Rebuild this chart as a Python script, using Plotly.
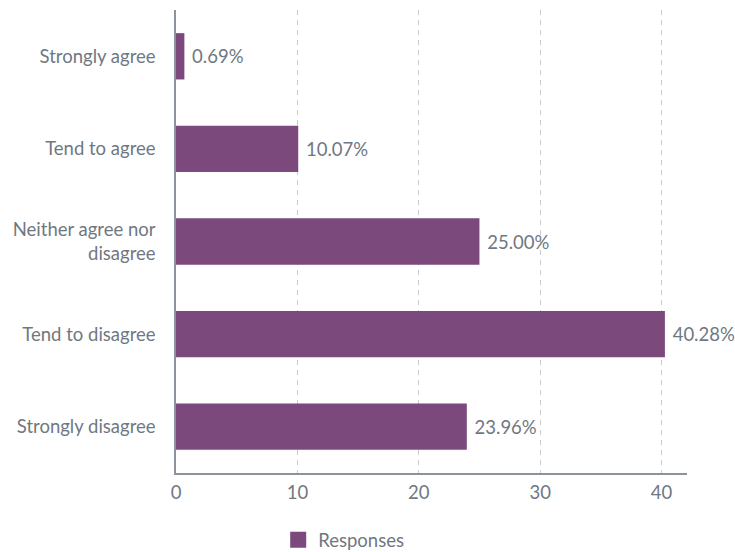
import plotly.graph_objects as go

categories = ["Strongly agree", "Tend to agree", "Neither agree nor<br>disagree",
              "Tend to disagree", "Strongly disagree"]
values = [0.69, 10.07, 25.00, 40.28, 23.96]
labels = ["0.69%", "10.07%", "25.00%", "40.28%", "23.96%"]
series_name = "Responses"
x_ticks = [0, 10, 20, 30, 40]

purple = "#7b497c"
text_grey = "#6f7882"
axis_grey = "#8c939b"
grid_grey = "#c9cbcf"
FS = 18.5

fig = go.Figure()
fig.add_trace(go.Bar(
    y=categories, x=values, orientation="h", name=series_name,
    marker=dict(color=purple, line=dict(width=0)),
    width=0.5,
    text=[" " + t for t in labels], textposition="outside",
    textfont=dict(family="Lato", size=FS, color=text_grey),
    cliponaxis=False,
    showlegend=False,
))
# legend entry for the bar series (larger swatch)
fig.add_trace(go.Scatter(
    x=[None], y=[None], mode="markers", name=series_name,
    marker=dict(symbol="square", size=17, color=purple),
    showlegend=True, hoverinfo="skip",
))

fig.update_layout(
    width=735, height=552,
    margin=dict(l=176, r=48, t=10, b=79, autoexpand=False),
    paper_bgcolor="white", plot_bgcolor="white",
    font=dict(family="Lato", size=FS, color=text_grey),
    showlegend=True,
    legend=dict(orientation="h", x=0.2, xanchor="left", y=-0.145, yanchor="middle",
                itemsizing="trace",
                font=dict(family="Lato", size=FS, color=text_grey)),
)
fig.update_xaxes(
    range=[0, 42.1], tickvals=x_ticks, ticktext=[str(t) for t in x_ticks],
    showgrid=True, gridcolor=grid_grey, griddash="5px,5px", gridwidth=1,
    zeroline=False, showline=True, linecolor=axis_grey, linewidth=1.5,
    ticks="", ticklabelstandoff=2, automargin=False,
    tickfont=dict(family="Lato", size=FS, color=text_grey),
)
fig.update_yaxes(
    autorange="reversed", showgrid=False, zeroline=False,
    showline=True, linecolor=axis_grey, linewidth=1.5,
    ticks="", ticklabelstandoff=15, automargin=False,
    tickfont=dict(family="Lato", size=FS, color=text_grey),
)

# remove the default 8px page margin so the figure fills the window exactly
fig.write_html("out.html",
               config={"displayModeBar": False},
               post_script="document.body.style.margin='0px';document.body.style.overflow='hidden';")
